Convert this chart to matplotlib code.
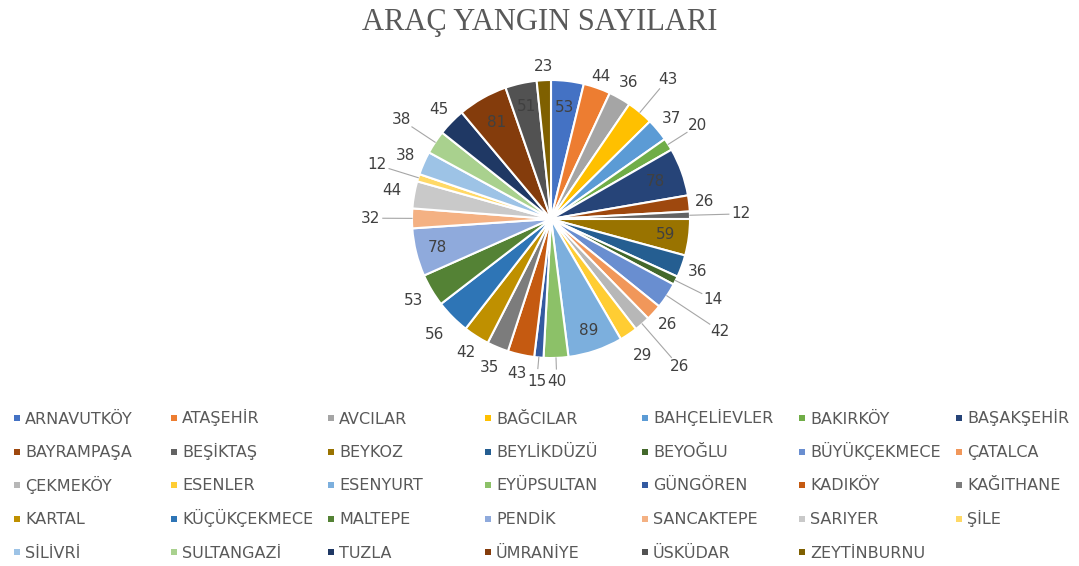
import numpy as np
import matplotlib
matplotlib.use('Agg')
import matplotlib.pyplot as plt

# Veriler: ilçe adları ve araç yangını sayıları
ilceler = ['ARNAVUTKÖY', 'ATAŞEHİR', 'AVCILAR', 'BAĞCILAR', 'BAHÇELİEVLER', 'BAKIRKÖY', 'BAŞAKŞEHİR',
           'BAYRAMPAŞA', 'BEŞİKTAŞ', 'BEYKOZ', 'BEYLİKDÜZÜ', 'BEYOĞLU', 'BÜYÜKÇEKMECE', 'ÇATALCA',
           'ÇEKMEKÖY', 'ESENLER', 'ESENYURT', 'EYÜPSULTAN', 'GÜNGÖREN', 'KADIKÖY', 'KAĞITHANE',
           'KARTAL', 'KÜÇÜKÇEKMECE', 'MALTEPE', 'PENDİK', 'SANCAKTEPE', 'SARIYER', 'ŞİLE',
           'SİLİVRİ', 'SULTANGAZİ', 'TUZLA', 'ÜMRANİYE', 'ÜSKÜDAR', 'ZEYTİNBURNU']
sayilar = [53, 44, 36, 43, 37, 20, 78,
           26, 12, 59, 36, 14, 42, 26,
           26, 29, 89, 40, 15, 43, 35,
           42, 56, 53, 78, 32, 44, 12,
           38, 38, 45, 81, 51, 23]

# Excel paleti (yaklaşık)
renkler = ['#4472C4', '#ED7D31', '#A5A5A5', '#FFC000', '#5B9BD5', '#70AD47', '#264478',
           '#9E480E', '#636363', '#997300', '#255E91', '#43682B', '#698ED0', '#F1975A',
           '#B7B7B7', '#FFCD33', '#7CAFDD', '#8CC168', '#335AA1', '#C55A11', '#7C7C7C',
           '#BF9000', '#2E75B6', '#548235', '#8FAADC', '#F4B183', '#C9C9C9', '#FFD966',
           '#9DC3E6', '#A9D18E', '#1F3864', '#843C0C', '#525252', '#7F6000']

# etiket yarıçapları (1 = dilim kenarı), < 1 ise içeride
r_etiket = [0.81, 1.09, 1.13, 1.31, 1.13, 1.25, 0.80,
            1.11, 1.37, 0.83, 1.12, 1.30, 1.46, 1.13,
            1.41, 1.18, 0.85, 1.17, 1.17, 1.14, 1.16,
            1.14, 1.18, 1.15, 0.84, 1.30, 1.16, 1.31,
            1.14, 1.29, 1.13, 0.80, 0.83, 1.10]
cizgili = {3, 5, 8, 11, 12, 14, 17, 18, 25, 27, 29}

W, H = 1079, 566
fig = plt.figure(figsize=(W / 100, H / 100), dpi=100)

# pasta: merkez (551, 219) px, yarıçap 139 px
R = 139
lim = 1.7
s = 2 * lim * R
cx, cy = 551, 219
ax = fig.add_axes([(cx - s / 2) / W, (H - cy - s / 2) / H, s / W, s / H])
wedges, _ = ax.pie(sayilar, colors=renkler, startangle=90, counterclock=False,
                   wedgeprops=dict(edgecolor='white', linewidth=1.5))
ax.set_xlim(-lim, lim)
ax.set_ylim(-lim, lim)
ax.set_aspect('equal')
ax.axis('off')

for i, w in enumerate(wedges):
    a = np.deg2rad((w.theta1 + w.theta2) / 2)
    r = r_etiket[i]
    ax.text(r * np.cos(a), r * np.sin(a), str(sayilar[i]), ha='center', va='center',
            fontsize=11, color='#404040', clip_on=False)
    if i in cizgili:
        r2 = r - 0.09
        ax.plot([1.0 * np.cos(a), r2 * np.cos(a)], [1.0 * np.sin(a), r2 * np.sin(a)],
                color='#A6A6A6', linewidth=0.8, clip_on=False)

fig.text(0.5, 1 - 30 / H, 'ARAÇ YANGIN SAYILARI', ha='center', va='baseline',
         fontsize=22, color='#595959', family='Liberation Serif')

# gösterge (7 sütun, satır sırasıyla)
lax = fig.add_axes([0, 0, 1, 1])
lax.set_xlim(0, W)
lax.set_ylim(H, 0)
lax.axis('off')
for i, ad in enumerate(ilceler):
    satir, sutun = divmod(i, 7)
    x = 17 + sutun * 157
    y = 418 + satir * 33.5
    lax.scatter([x], [y], marker='s', s=22, color=renkler[i], linewidths=0)
    lax.text(x + 8, y + 5.5, ad, ha='left', va='baseline', fontsize=11.5, color='#595959')

fig.savefig('out.png', dpi=100)
